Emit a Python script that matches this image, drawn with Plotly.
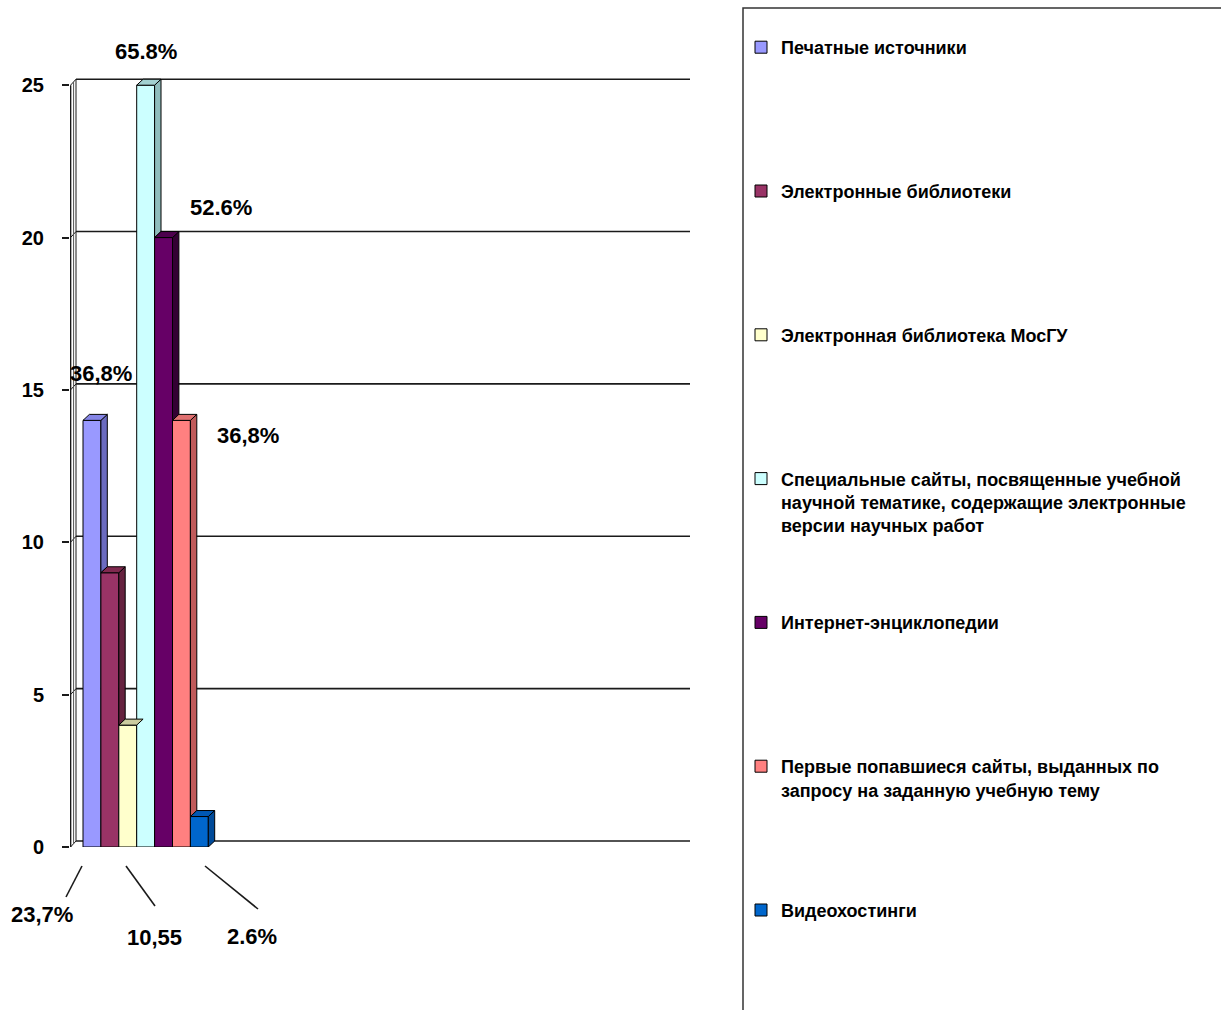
import plotly.graph_objects as go

# ---- data -----------------------------------------------------------------
categories = [
    "Печатные источники",
    "Электронные библиотеки",
    "Электронная библиотека МосГУ",
    "Специальные сайты, посвященные учебной<br>научной тематике, содержащие электронные<br>версии научных работ",
    "Интернет-энциклопедии",
    "Первые попавшиеся сайты, выданных по<br>запросу на заданную учебную тему",
    "Видеохостинги",
]
values = [14, 9, 4, 25, 20, 14, 1]
value_labels = ["36,8%", "23,7%", "10,55", "65.8%", "52.6%", "36,8%", "2.6%"]
tick_values = [0, 5, 10, 15, 20, 25]

# ---- styling ----------------------------------------------------------------
front_colors = ["#9999FF", "#993366", "#FFFFCC", "#CCFFFF", "#660066", "#FF8080", "#0066CC"]
side_colors = ["#6B6BC0", "#66223F", "#B8B88F", "#8FBDBD", "#330033", "#C05A5A", "#004A99"]
top_colors = ["#8585E6", "#80294F", "#CCCCA0", "#A3D1D1", "#4D004D", "#E07070", "#0057B3"]

FONT = "Liberation Sans, Arial, sans-serif"
W, H = 1221, 1010
PL, PR, PT, PB = 70, 690, 73, 847          # plot-area edges in pixels
Y_MAX = 25.4
UNIT_X = 17.9                              # pixels per bar slot
X_MIN = -0.5 - (83 - PL) / UNIT_X
X_MAX = X_MIN + (PR - PL) / UNIT_X
UNIT_Y = (PB - PT) / Y_MAX
DX = 6.4 / UNIT_X                          # depth of the 3-D extrusion
DY = 6.0 / UNIT_Y
WALL_X = X_MIN + 6.0 / UNIT_X


def px_x(px):
    return (px - PL) / (PR - PL)


def px_y(py):
    return (PB - py) / (PB - PT)


fig = go.Figure()

n = len(values)
for i, v in enumerate(values):
    # front face
    fig.add_trace(go.Bar(
        x=[i], y=[v], width=1, name=categories[i] + "<br> " * (2 - categories[i].count("<br>")),
        legendgroup=str(i),
        marker=dict(color=front_colors[i], line=dict(color="#000000", width=1)),
        hoverinfo="skip",
    ))

for i, v in enumerate(values):
    nxt = values[i + 1] if i + 1 < n else 0
    # right side face (only the part above the neighbour is visible)
    if v > nxt:
        xs = [i + 0.5, i + 0.5 + DX, i + 0.5 + DX, i + 0.5, i + 0.5]
        ys = [nxt, nxt + DY, v + DY, v, nxt]
        fig.add_trace(go.Scatter(
            x=xs, y=ys, mode="lines", fill="toself", fillcolor=side_colors[i],
            line=dict(color="#000000", width=1), showlegend=False, hoverinfo="skip",
        ))
    # top face
    xs = [i - 0.5, i - 0.5 + DX, i + 0.5 + DX, i + 0.5, i - 0.5]
    ys = [v, v + DY, v + DY, v, v]
    fig.add_trace(go.Scatter(
        x=xs, y=ys, mode="lines", fill="toself", fillcolor=top_colors[i],
        line=dict(color="#000000", width=1), showlegend=False, hoverinfo="skip",
    ))

# ---- walls and gridlines ------------------------------------------------------
shapes = []
for t in tick_values:
    shapes.append(dict(type="line", xref="x", yref="y", x0=WALL_X, x1=X_MAX, y0=t + DY, y1=t + DY,
                       line=dict(color="#1A1A1A", width=1.6), layer="below"))
    shapes.append(dict(type="line", xref="x", yref="y", x0=X_MIN + 0.03, x1=WALL_X, y0=t, y1=t + DY,
                       line=dict(color="#1A1A1A", width=1), layer="below"))
shapes.append(dict(type="line", xref="x", yref="y", x0=WALL_X, x1=WALL_X, y0=DY, y1=tick_values[-1] + DY,
                   line=dict(color="#1A1A1A", width=1), layer="below"))
shapes.append(dict(type="line", xref="x", yref="y", x0=X_MIN + 0.03, x1=X_MIN + 0.03, y0=0, y1=tick_values[-1],
                   line=dict(color="#1A1A1A", width=1.6), layer="below"))
shapes.append(dict(type="line", xref="x", yref="y", x0=X_MIN + 0.2, x1=X_MIN + 0.2, y0=0.1, y1=tick_values[-1] + 0.1,
                   line=dict(color="#555555", width=1), layer="below"))

# leader lines for the labels under the axis
leaders = [(82, 866, 66, 897), (126, 866, 155, 906), (205, 866, 258, 909)]
for x0, y0, x1, y1 in leaders:
    shapes.append(dict(type="line", xref="paper", yref="paper", x0=px_x(x0), y0=px_y(y0),
                       x1=px_x(x1), y1=px_y(y1), line=dict(color="#1A1A1A", width=1.6)))

# legend frame
shapes.append(dict(type="rect", xref="paper", yref="paper", x0=px_x(743), x1=px_x(1250),
                   y0=px_y(8), y1=px_y(1040), line=dict(color="#333333", width=1.5),
                   fillcolor="rgba(0,0,0,0)"))

# ---- value labels -------------------------------------------------------------
label_pos = [(101, 374), (42, 914), (154, 938), (146, 52), (221, 208), (248, 436), (252, 936)]
annotations = []
for txt, (lx, ly) in zip(value_labels, label_pos):
    annotations.append(dict(text=txt, xref="paper", yref="paper", x=px_x(lx), y=px_y(ly),
                            showarrow=False, xanchor="center", yanchor="middle",
                            font=dict(family=FONT, size=22, color="#000000", weight="bold")))

fig.update_layout(
    width=W, height=H,
    margin=dict(l=PL, r=W - PR, t=PT, b=H - PB, autoexpand=False),
    paper_bgcolor="#FFFFFF", plot_bgcolor="rgba(0,0,0,0)",
    barmode="overlay",
    shapes=shapes,
    annotations=annotations,
    xaxis=dict(range=[X_MIN, X_MAX], showgrid=False, zeroline=False, showline=False,
               showticklabels=False, ticks=""),
    yaxis=dict(range=[0, Y_MAX], tickvals=tick_values, showgrid=False, zeroline=False,
               showline=False, ticks="outside", ticklen=7, tickcolor="#1A1A1A", tickwidth=1.5,
               ticklabelstandoff=14,
               tickfont=dict(family=FONT, size=20, color="#000000", weight="bold")),
    legend=dict(x=px_x(741), y=px_y(29), xanchor="left", yanchor="top",
                valign="top", tracegroupgap=70.6, traceorder="grouped", maxheight=3000,
                font=dict(family=FONT, size=18, color="#000000", weight="bold"),
                bgcolor="rgba(0,0,0,0)", borderwidth=0),
    showlegend=True,
)

fig.write_html("out.html")
